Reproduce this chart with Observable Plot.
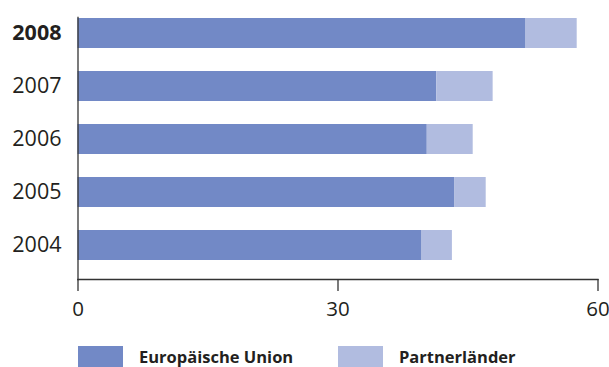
<!DOCTYPE html>
<html>
<head>
<meta charset="utf-8">
<script src="https://cdn.jsdelivr.net/npm/d3@7"></script>
<script src="https://cdn.jsdelivr.net/npm/@observablehq/plot@0.6"></script>
<style>
  html, body { margin: 0; padding: 0; background: #fff; }
  body { width: 609px; height: 367px; overflow: hidden; font-family: "Open Sans", sans-serif; color: #231f20; }
  #legend { position: relative; width: 609px; height: 37px; }
  #legend .sw { position: absolute; top: 16px; width: 45px; height: 21px; }
  #legend .lb { position: absolute; top: 14.8px; font-size: 16.5px; font-weight: 700; line-height: normal; white-space: nowrap; }
</style>
</head>
<body>
<div id="chart"></div>
<div id="legend"></div>
<script>
const years = ["2008", "2007", "2006", "2005", "2004"];
const seriesNames = ["Europäische Union", "Partnerländer"];
const euValues = [51.7, 41.4, 40.3, 43.5, 39.7];
const partnerValues = [5.9, 6.5, 5.3, 3.6, 3.5];
const xTicks = [0, 30, 60];
const colors = ["#7289c6", "#b1bce0"];

const data = [];
years.forEach((y, i) => {
  data.push({year: y, series: seriesNames[0], value: euValues[i]});
  data.push({year: y, series: seriesNames[1], value: partnerValues[i]});
});

const W = 609, H = 330;
const chart = Plot.plot({
  width: W,
  height: H,
  marginLeft: 77.5,
  marginRight: 11.5,
  marginTop: 17,
  marginBottom: 51,
  style: {fontFamily: "Open Sans, sans-serif", color: "#231f20", background: "#fff"},
  x: {domain: [0, 60], axis: null},
  y: {domain: years, range: [17, 261], paddingInner: 0.44, paddingOuter: 0, axis: null},
  color: {domain: seriesNames, range: colors},
  marks: [
    Plot.barX(data, Plot.stackX({x: "value", y: "year", fill: "series", order: null})),
    Plot.frame({anchor: "left", stroke: "#333", strokeWidth: 1.3}),
    Plot.frame({anchor: "bottom", stroke: "#333", strokeWidth: 1.3}),
    Plot.axisX({ticks: xTicks, tickSize: 12, tickPadding: 10, fontSize: 20.5, stroke: "#333", strokeWidth: 1.3, fill: "#231f20", label: null}),
    Plot.axisY({ticks: years.filter(y => y === "2008"), tickSize: 0, tickPadding: 16.5, fontSize: 21.5, fontWeight: "bold", fill: "#231f20", label: null}),
    Plot.axisY({ticks: years.filter(y => y !== "2008"), tickSize: 0, tickPadding: 16.5, fontSize: 21.5, fill: "#231f20", label: null})
  ]
});
document.getElementById("chart").appendChild(chart);

const legend = document.getElementById("legend");
const swLeft = [77.7, 338];
const lbLeft = [139, 399];
seriesNames.forEach((name, i) => {
  const sw = document.createElement("div");
  sw.className = "sw";
  sw.style.left = swLeft[i] + "px";
  sw.style.background = colors[i];
  legend.appendChild(sw);
  const lb = document.createElement("div");
  lb.className = "lb";
  lb.style.left = lbLeft[i] + "px";
  lb.textContent = name;
  legend.appendChild(lb);
});
</script>
</body>
</html>
